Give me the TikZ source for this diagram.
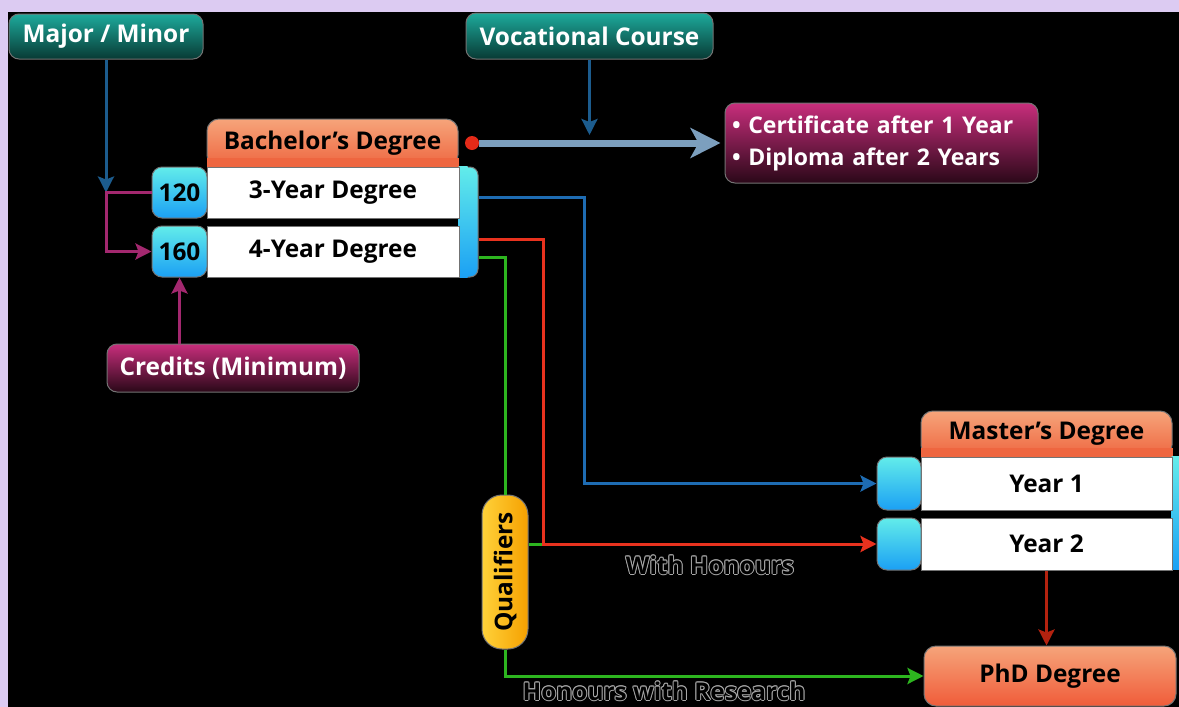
\documentclass[tikz,border=0pt]{standalone}
\usepackage{fontspec}
\setmainfont{Open Sans}
\usetikzlibrary{arrows.meta}
\definecolor{lav}{HTML}{DCCBF2}
\definecolor{tealT}{HTML}{1DAA9C}
\definecolor{tealB}{HTML}{083A34}
\definecolor{magT}{HTML}{C82E7C}
\definecolor{magB}{HTML}{2A0818}
\definecolor{orT}{HTML}{F6A47A}
\definecolor{orB}{HTML}{EE6640}
\definecolor{cyT}{HTML}{62ECEA}
\definecolor{cyB}{HTML}{1BA0F4}
\definecolor{yelL}{HTML}{FFD23A}
\definecolor{yelR}{HTML}{F5A000}
\definecolor{mmArrow}{HTML}{1C5C8E}
\definecolor{magLine}{HTML}{A3286F}
\definecolor{blueLine}{HTML}{1E6CB2}
\definecolor{redLine}{HTML}{E8321E}
\definecolor{greenLine}{HTML}{2DB51F}
\definecolor{darkRed}{HTML}{B3220F}
\definecolor{steel}{HTML}{7C9FBE}
\definecolor{dotRed}{HTML}{E42A18}
\definecolor{olc}{HTML}{A8A8A8}
\newcommand\outl[1]{\leavevmode
 \rlap{\color{olc}\kern0.5pt#1}%
 \rlap{\color{olc}\kern-0.5pt#1}%
 \rlap{\color{olc}\raisebox{0.5pt}{#1}}%
 \rlap{\color{olc}\raisebox{-0.5pt}{#1}}%
 \rlap{\color{olc}\kern0.35pt\raisebox{0.35pt}{#1}}%
 \rlap{\color{olc}\kern-0.35pt\raisebox{0.35pt}{#1}}%
 \rlap{\color{olc}\kern0.35pt\raisebox{-0.35pt}{#1}}%
 \rlap{\color{olc}\kern-0.35pt\raisebox{-0.35pt}{#1}}%
 {\color{black}#1}}
\tikzset{
  lbl/.style={font=\bfseries\fontsize{12.2}{14}\selectfont},
  basebox/.style={lbl, inner sep=0pt, draw=black!55, line width=0.5pt},
  tealbox/.style={basebox, rounded corners=5pt, top color=tealT, bottom color=tealB, text=white},
  magbox/.style={basebox, rounded corners=5pt, top color=magT, bottom color=magB, text=white},
  hdrbox/.style={basebox, rounded corners=6pt, top color=orT, bottom color=orB, text=black},
  cybox/.style={basebox, rounded corners=5pt, top color=cyT, bottom color=cyB, text=black},
  barbox/.style={basebox, rounded corners=4pt, top color=cyT, bottom color=cyB},
  whbox/.style={basebox, fill=white, text=black},
  conn/.style={line width=1.5pt},
  arr/.style={conn, -{Stealth[length=8pt,width=8pt,inset=1.5pt]}},
}
\begin{document}
\begin{tikzpicture}[x=0.5pt,y=-0.5pt]
\useasboundingbox (0,0) rectangle (1179,707);
\fill[lav] (0,0) rectangle (1179,707);
\fill[black] (8,12) rectangle (1179,707);

% top boxes
\node[tealbox, minimum width=97pt, minimum height=22.5pt] (mm) at (106,36.5) {Major / Minor};
\node[tealbox, minimum width=123.5pt, minimum height=23pt] (voc) at (589.5,36) {Vocational Course};
\node[magbox, minimum width=156.5pt, minimum height=40pt, text width=149.5pt, inner xsep=3.5pt, align=left,
      font=\bfseries\fontsize{11.5}{16}\selectfont] (cert) at (881.5,143)
      {\textbullet\ Certificate after 1 Year\\\textbullet\ Diploma after 2 Years};
\node[magbox, minimum width=126pt, minimum height=24pt] (cr) at (233,368) {Credits (Minimum)};

% Bachelor block
\node[hdrbox, minimum width=125.5pt, minimum height=24pt] (bhead) at (332.5,143) {Bachelor’s Degree};
\fill[orB] ([yshift=5pt]bhead.south west) rectangle (bhead.south east);
\node[barbox, minimum width=9.5pt, minimum height=55pt] (bbar) at (468.5,222) {};
\shade[top color=cyT, bottom color=cyB] (bbar.north west) rectangle ([xshift=4.5pt]bbar.south west);
\node[cybox, minimum width=27.5pt, minimum height=25.5pt] (c120) at (179.5,192.5) {120};
\node[cybox, minimum width=27.5pt, minimum height=25.5pt] (c160) at (179.5,251.5) {160};
\node[whbox, minimum width=126pt, minimum height=25.5pt] (d3) at (333,192.5) {3-Year Degree};
\node[whbox, minimum width=126pt, minimum height=25.5pt] (d4) at (333,251.5) {4-Year Degree};

% Master block
\node[hdrbox, minimum width=125.5pt, minimum height=23pt] (mhead) at (1046.5,434) {Master’s Degree};
\fill[orB] ([yshift=5pt]mhead.south west) rectangle (mhead.south east);
\node[barbox, minimum width=9pt, minimum height=56pt] (mbar) at (1181,513) {};
\shade[top color=cyT, bottom color=cyB] (mbar.north west) rectangle ([xshift=4.5pt]mbar.south west);
\node[cybox, minimum width=22pt, minimum height=26.5pt] (y1c) at (899,483.5) {};
\node[cybox, minimum width=22pt, minimum height=26pt] (y2c) at (899,544) {};
\node[whbox, minimum width=125.5pt, minimum height=26.5pt] (y1w) at (1046.5,483.5) {Year 1};
\node[whbox, minimum width=125.5pt, minimum height=26pt] (y2w) at (1046.5,544) {Year 2};

% PhD and qualifiers
\node[hdrbox, minimum width=126pt, minimum height=30pt, top color=orT, bottom color=orB!90!red] (phd) at (1050,676) {PhD Degree};
\node[basebox, rounded corners=10pt, left color=yelL, right color=yelR, minimum width=23pt, minimum height=77pt] (qual) at (505,572) {\rotatebox{90}{Qualifiers}};

% red dot and vocational arrow
\node[circle, fill=dotRed, minimum size=7pt, inner sep=0pt] (dot) at (472,143) {};
\draw[steel, line width=3.5pt, shorten >=2pt, -{Stealth[length=15pt,width=15pt,inset=4pt]}] (dot.east) -- (cert.west);
\coordinate (vt) at (589.5,135);
\draw[mmArrow, arr] (voc.south) -- (vt);

% major/minor and credits
\coordinate (mj) at (106,192.5);
\draw[mmArrow, arr] (mm.south) -- (mj);
\draw[magLine, arr] (c120.west) -- (mj) |- (c160.west);
\draw[magLine, arr] (cr.north -| c160.south) -- (c160.south);

% routes from bachelor
\draw[greenLine, conn] (qual.east |- y2c.west) -- (543,0 |- y2c.west);
\draw[blueLine, arr] (bbar.east |- 0,197) -| (584,0 |- y1c.west) -- (y1c.west);
\draw[redLine, arr] (bbar.east |- 0,239) -| (543,0 |- y2c.west) -- (y2c.west);
\draw[greenLine, conn] (bbar.east |- 0,257) -| (qual.north);
\draw[greenLine, arr] (qual.south) |- (phd.west);
\draw[darkRed, arr] (y2w.south) -- (y2w.south |- phd.north);

% outlined labels
\node[lbl] (wh) at (710,565) {\outl{With Honours}};
\node[lbl] (hr) at (664,691) {\outl{Honours with Research}};
\end{tikzpicture}
\end{document}
